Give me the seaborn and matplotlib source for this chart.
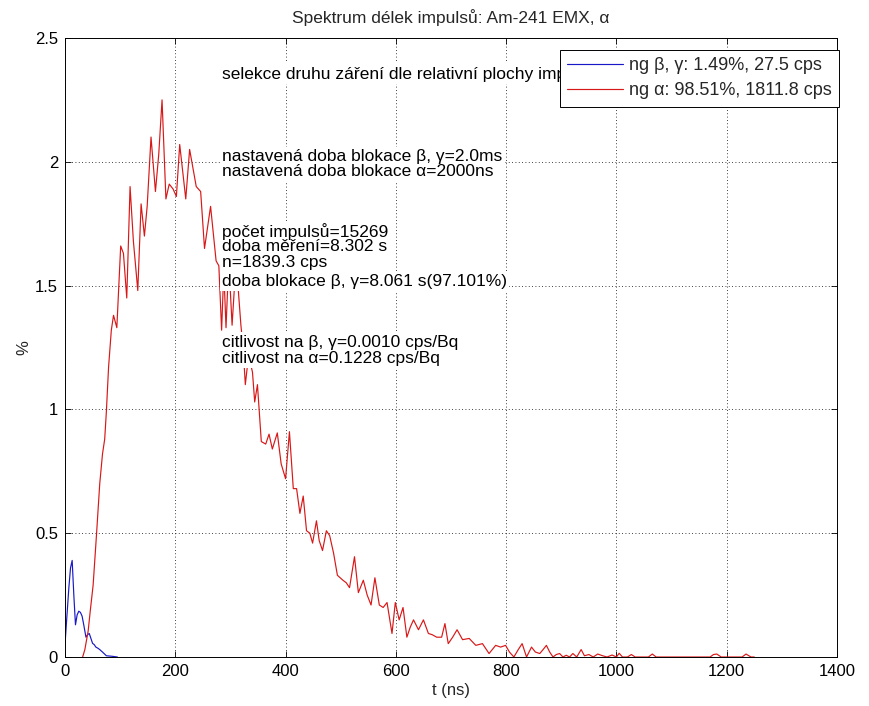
import numpy as np
import pandas as pd
import matplotlib
matplotlib.use("Agg")
import matplotlib.pyplot as plt
import seaborn as sns

# ---------------- data ----------------
t_beta = [0, 3, 7, 10, 13, 16, 19, 22, 25, 28, 31, 34, 38, 41, 44, 47, 50, 53, 56, 60, 63, 68, 75, 85, 95]
v_beta = [0.05, 0.15, 0.28, 0.36, 0.39, 0.25, 0.13, 0.17, 0.185, 0.18, 0.165, 0.13, 0.08, 0.09, 0.095,
          0.075, 0.055, 0.05, 0.04, 0.035, 0.03, 0.02, 0.005, 0.003, 0.0]

t_alpha = [32, 36, 42, 46, 51, 57, 63, 68, 72, 75, 79, 84, 88, 94, 101, 106, 112, 118, 124, 132,
           138, 144, 149, 156, 164, 170, 176, 183, 189, 196, 202, 208, 219, 226, 238, 246, 253, 264, 274,
           279, 284, 288, 292, 297, 303, 308, 314, 319, 323, 327, 333, 340, 344, 349, 356, 364, 370, 376,
           385, 392, 400, 407, 414, 420, 426, 432, 438, 444, 449, 456, 461, 467, 474, 480, 487, 494, 504,
           510, 516, 525, 532, 541, 548, 555, 562, 570, 577, 584, 593, 599, 606, 613, 620, 626, 632, 641,
           650, 659, 666, 674, 683, 689, 695, 703, 711, 721, 733, 745, 757, 769, 781, 790, 799, 806, 814,
           822, 829, 837, 846, 853, 861, 867, 873, 879, 885, 891, 897, 903, 909, 915, 921, 928, 936, 942,
           950, 958, 966, 975, 983, 992, 1000, 1005, 1011, 1020, 1027, 1034, 1050, 1058, 1065, 1072, 1170,
           1176, 1182, 1190, 1228, 1235, 1244, 1250]
v_alpha = [0.0, 0.03, 0.105, 0.19, 0.29, 0.49, 0.70, 0.82, 0.88, 0.99, 1.17, 1.32, 1.38, 1.33, 1.66,
           1.63, 1.45, 1.90, 1.68, 1.48, 1.83, 1.70, 1.82, 2.10, 1.88, 2.03, 2.25, 1.85, 1.91, 1.89, 1.86,
           2.07, 1.85, 2.05, 1.90, 1.88, 1.65, 1.82, 1.60,
           1.58, 1.32, 1.56, 1.33, 1.60, 1.34, 1.52, 1.49, 1.34, 1.25, 1.10, 1.22, 1.15, 1.03, 1.10, 0.87,
           0.86, 0.90, 0.84, 0.905, 0.78, 0.72, 0.91, 0.68, 0.68, 0.58, 0.65, 0.51, 0.50, 0.46, 0.55, 0.47,
           0.43, 0.51, 0.49, 0.42, 0.33, 0.31, 0.30, 0.28, 0.405, 0.26, 0.31, 0.25, 0.21, 0.32, 0.21, 0.20,
           0.22, 0.095, 0.22, 0.15, 0.20, 0.08, 0.12, 0.15, 0.11, 0.15, 0.095, 0.09, 0.08, 0.08, 0.135,
           0.054, 0.08, 0.11, 0.07, 0.075, 0.047, 0.054, 0.014, 0.047, 0.04, 0.047, 0.02, 0.0, 0.03, 0.054,
           0.0, 0.04, 0.02, 0.014, 0.03, 0.047, 0.02, 0.0, 0.01, 0.014, 0.0, 0.007, 0.0, 0.014, 0.0, 0.03,
           0.005, 0.01, 0.0, 0.012, 0.005, 0.0, 0.008, 0.0, 0.015, 0.0, 0.0, 0.01, 0.0, 0.0, 0.0, 0.012,
           0.0, 0.0, 0.01, 0.012, 0.0, 0.0, 0.012, 0.0, 0.0]

label_beta = "ng β, γ: 1.49%, 27.5 cps"
label_alpha = "ng α: 98.51%, 1811.8 cps"

title = "Spektrum délek impulsů: Am-241 EMX, α"
xlabel = "t (ns)"
ylabel = "%"
xticks = [0, 200, 400, 600, 800, 1000, 1200, 1400]
xtick_labels = ["0", "200", "400", "600", "800", "1000", "1200", "1400"]
yticks = [0, 0.5, 1, 1.5, 2, 2.5]
ytick_labels = ["0", "0.5", "1", "1.5", "2", "2.5"]

info_lines = [
    "selekce druhu záření dle relativní plochy impulsů",
    "nastavená doba blokace β, γ=2.0ms",
    "nastavená doba blokace α=2000ns",
    "počet impulsů=15269",
    "doba měření=8.302 s",
    "n=1839.3 cps",
    "doba blokace β, γ=8.061 s(97.101%)",
    "citlivost na β, γ=0.0010 cps/Bq",
    "citlivost na α=0.1228 cps/Bq",
]
info_x = 285
info_y = [2.358, 2.02, 1.96, 1.72, 1.657, 1.595, 1.518, 1.272, 1.204]

# ---------------- style ----------------
sns.set_style("ticks")
plt.rcParams["font.family"] = ["Liberation Sans", "DejaVu Sans"]
plt.rcParams.update({
    "xtick.direction": "in", "ytick.direction": "in",
    "xtick.top": True, "ytick.right": True,
    "xtick.major.size": 4, "ytick.major.size": 4,
    "xtick.major.width": 0.6, "ytick.major.width": 0.6,
    "xtick.color": "black", "ytick.color": "black",
    "axes.edgecolor": "black", "axes.linewidth": 0.7,
    "font.size": 12.5,
})
FS = 12.5

fig = plt.figure(figsize=(8.69, 7.06), dpi=100)
fig.patch.set_facecolor("white")
ax = fig.add_axes([65 / 869, 1 - 657 / 706, 772 / 869, 619 / 706])

df_b = pd.DataFrame({"t": t_beta, "v": v_beta})
df_a = pd.DataFrame({"t": t_alpha, "v": v_alpha})
sns.lineplot(data=df_b, x="t", y="v", color="#1818c8", lw=0.85, ax=ax,
             label=label_beta, estimator=None, sort=False)
sns.lineplot(data=df_a, x="t", y="v", color="#d81818", lw=0.85, ax=ax,
             label=label_alpha, estimator=None, sort=False)

ax.set_xlim(0, 1400)
ax.set_ylim(0, 2.5)
ax.set_xticks(xticks)
ax.set_xticklabels(xtick_labels, fontsize=12)
ax.set_yticks(yticks)
ax.set_yticklabels(ytick_labels, fontsize=12)
ax.tick_params(axis="both", pad=5)
ax.grid(True, color="black", linestyle=(0, (1, 3)), linewidth=0.6)
for s in ax.spines.values():
    s.set_visible(True)

ax.set_title(title, fontsize=FS, pad=10.5)
ax.set_xlabel(xlabel, fontsize=12)
ax.set_ylabel(ylabel, fontsize=12)
ax.xaxis.set_label_coords(0.5, -(683 - 657) / 619)
ax.yaxis.set_label_coords(-(65 - 31) / 772, 0.5)

# white backgrounds first, then the text on top (so descenders are not clipped)
bb = dict(facecolor="white", edgecolor="none", pad=1.5)
for ty, txt in zip(info_y, info_lines):
    ax.text(info_x, ty, txt, ha="left", va="center", fontsize=FS, color="none",
            bbox=bb, zorder=3.5)
for ty, txt in zip(info_y, info_lines):
    ax.text(info_x, ty, txt, ha="left", va="center", fontsize=FS, color="black",
            zorder=4)

leg = ax.legend(loc="upper right", bbox_to_anchor=(1.002, 1 - 12 / 619), borderaxespad=0,
                fontsize=13, handlelength=3.1, handletextpad=0.3, labelspacing=0.45,
                fancybox=False, framealpha=1, edgecolor="black", borderpad=0.4)
leg.get_frame().set_linewidth(0.7)
leg.set_zorder(6)

fig.savefig("out.png", dpi=100, facecolor="white")
